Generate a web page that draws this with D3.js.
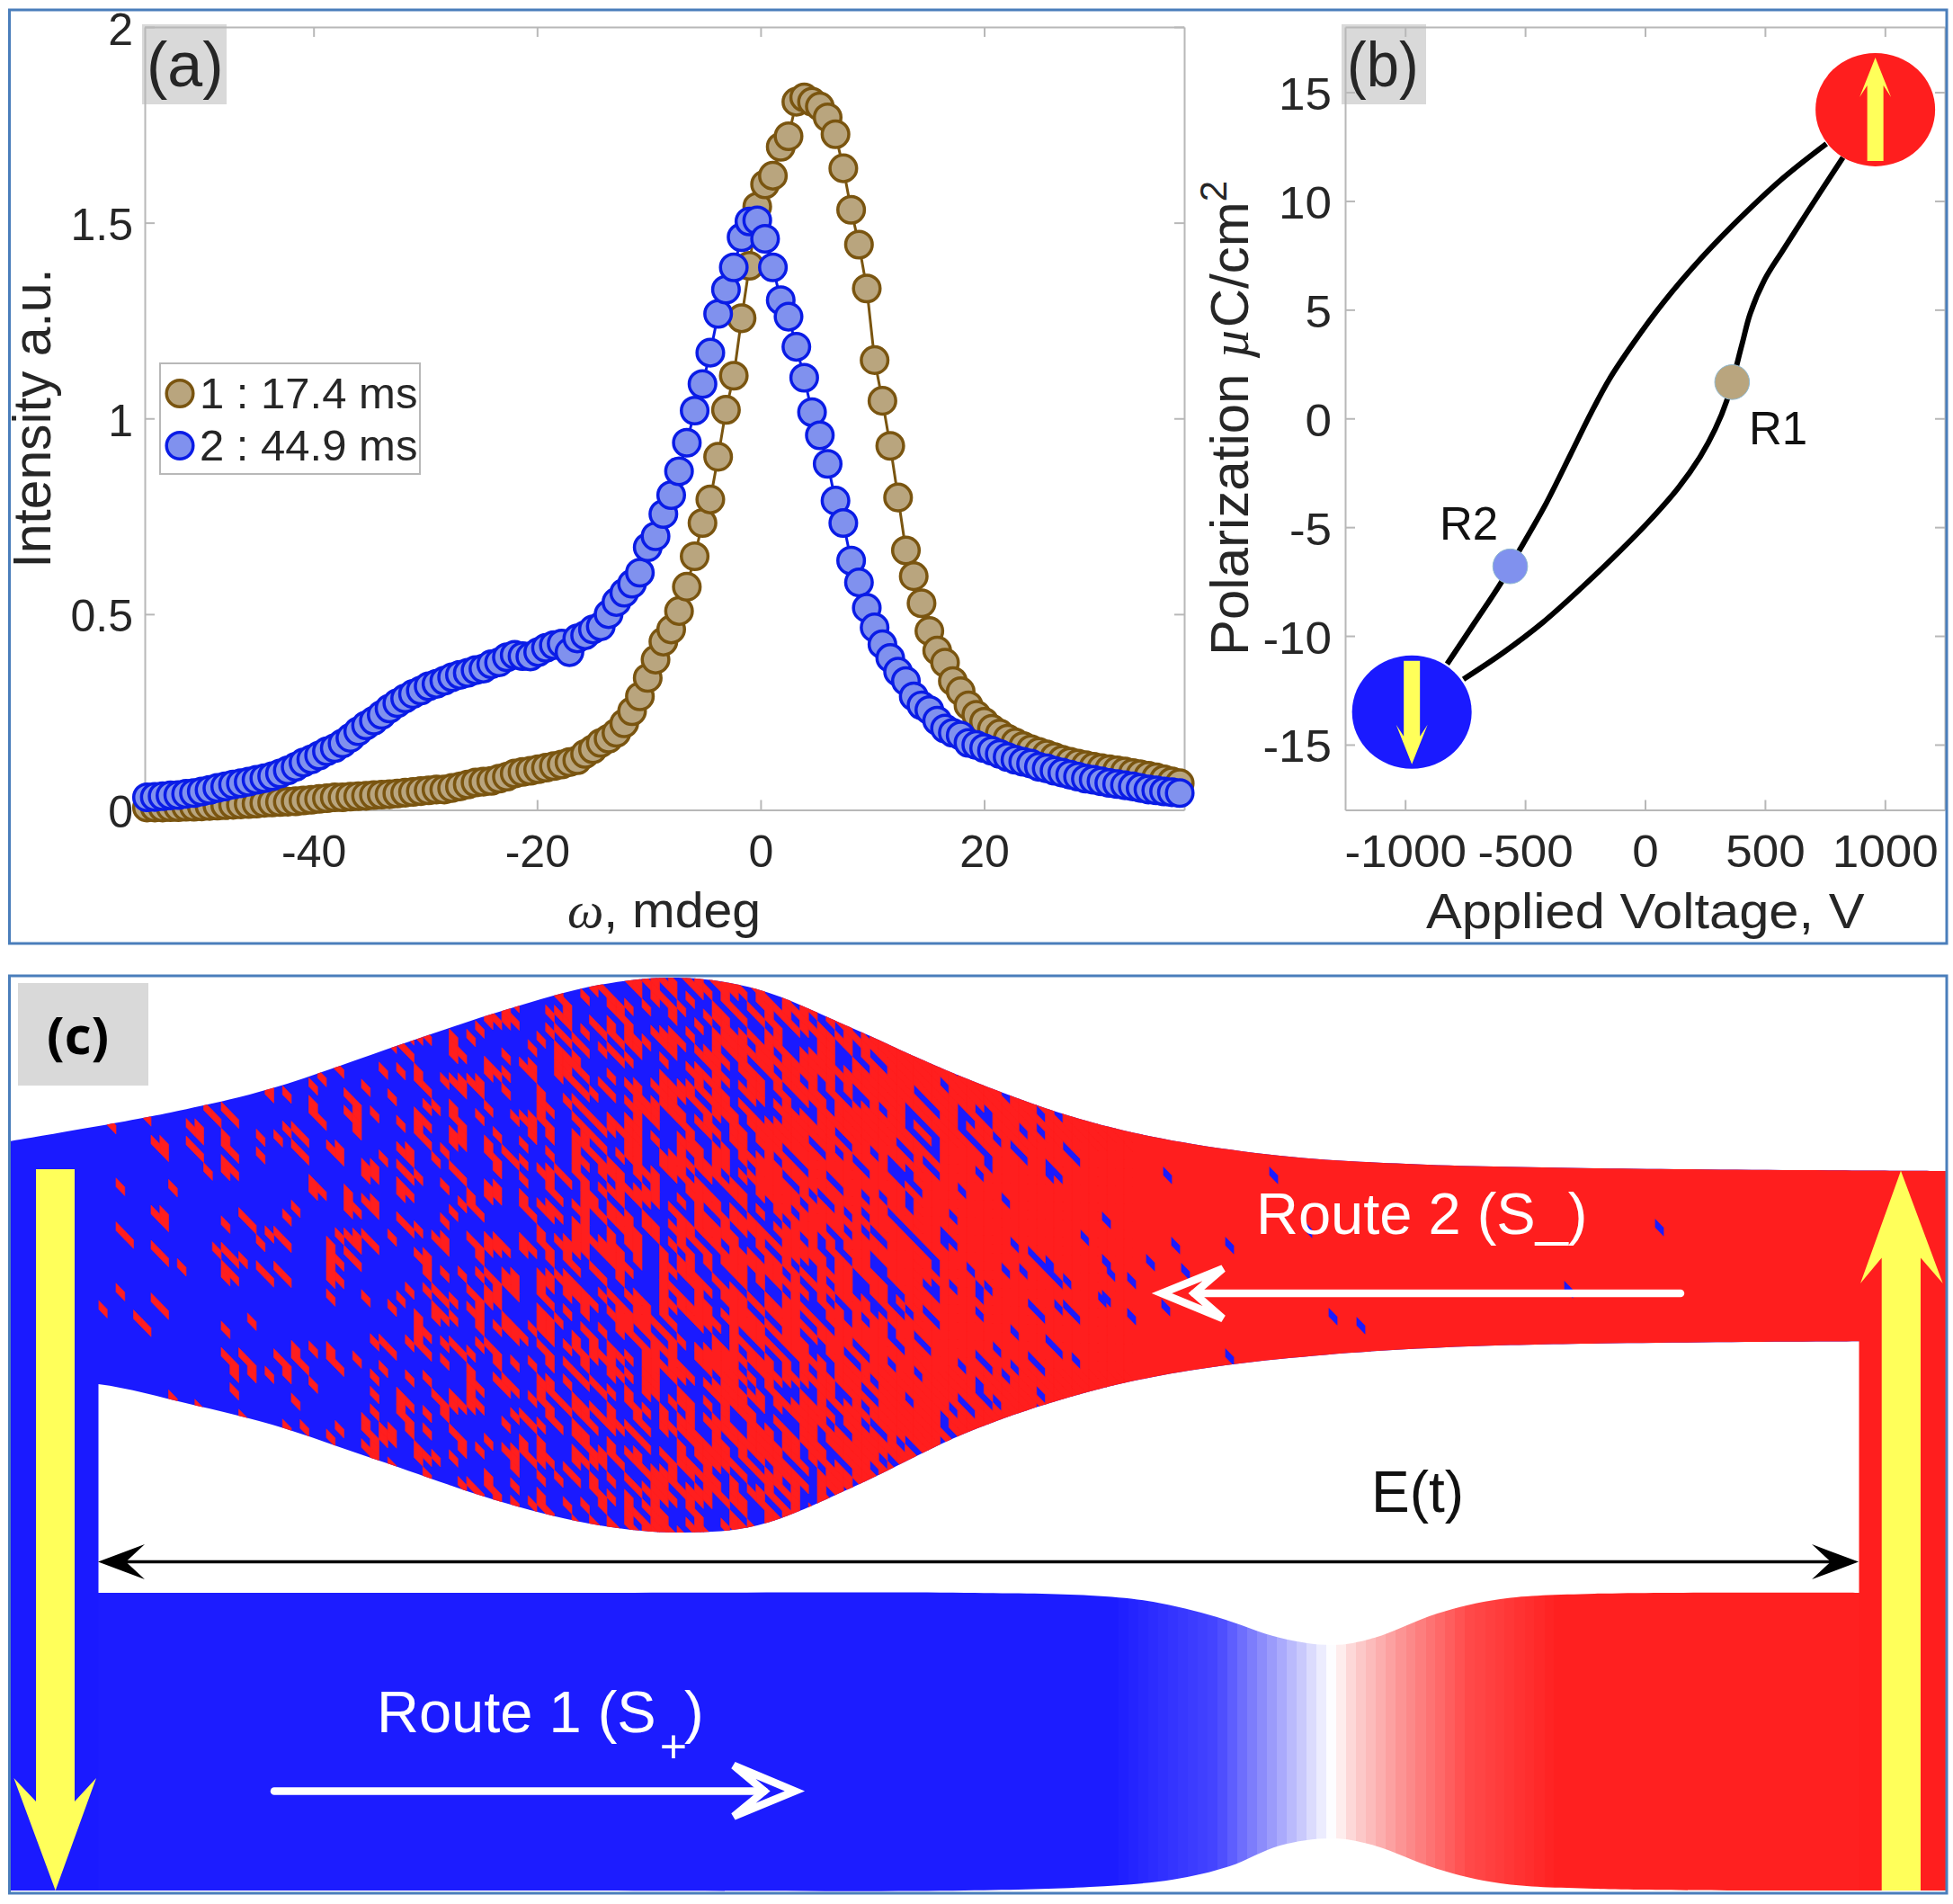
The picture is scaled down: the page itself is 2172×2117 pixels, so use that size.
<!DOCTYPE html>
<html>
<head>
<meta charset="utf-8">
<script src="https://d3js.org/d3.v7.min.js"></script>
<style>
body { margin: 0; background: #fff; }
text { font-family: "Liberation Sans", sans-serif; fill: #262626; }
.axis path, .axis line { stroke: #b8b8b8; stroke-width: 2; }
</style>
</head>
<body>
<svg id="fig" width="2172" height="2117"></svg>
<script>
// PANEL A DATA - omega (mdeg) and the two rocking curves
var omega = [
-54.9,-54.2,-53.5,-52.8,-52.1,-51.4,-50.7,-50.0,-49.3,-48.6,
-47.9,-47.2,-46.5,-45.8,-45.1,-44.4,-43.7,-43.0,-42.3,-41.6,
-40.9,-40.2,-39.5,-38.8,-38.1,-37.4,-36.7,-36.0,-35.3,-34.6,
-33.9,-33.2,-32.5,-31.8,-31.1,-30.4,-29.7,-29.0,-28.3,-27.6,
-26.9,-26.2,-25.5,-24.8,-24.1,-23.4,-22.7,-22.0,-21.3,-20.6,
-19.9,-19.2,-18.5,-17.8,-17.1,-16.4,-15.7,-15.0,-14.3,-13.6,
-12.9,-12.2,-11.5,-10.8,-10.1,-9.4,-8.7,-8.0,-7.3,-6.6,
-5.9,-5.2,-4.5,-3.8,-3.1,-2.4,-1.7,-1.0,-0.3,0.4,
1.1,1.8,2.5,3.2,3.9,4.6,5.3,6.0,6.7,7.4,
8.1,8.8,9.5,10.2,10.9,11.6,12.3,13.0,13.7,14.4,
15.1,15.8,16.5,17.2,17.9,18.6,19.3,20.0,20.7,21.4,
22.1,22.8,23.5,24.2,24.9,25.6,26.3,27.0,27.7,28.4,
29.1,29.8,30.5,31.2,31.9,32.6,33.3,34.0,34.7,35.4,
36.1,36.8,37.5];
var intensity1 = [
.006,.006,.006,.007,.007,.008,.008,.009,.010,.011,
.012,.013,.014,.015,.016,.018,.019,.020,.021,.022,
.024,.026,.028,.030,.032,.032,.034,.035,.036,.038,
.039,.040,.042,.044,.046,.048,.050,.052,.052,.056,
.060,.065,.070,.072,.074,.080,.085,.093,.097,.100,
.104,.108,.112,.116,.122,.127,.143,.155,.171,.182,
.197,.221,.252,.290,.337,.384,.430,.461,.508,.570,
.648,.733,.793,.902,1.022,1.109,1.256,1.390,1.541,1.598,
1.620,1.694,1.721,1.809,1.820,1.809,1.797,1.769,1.726,1.639,
1.533,1.444,1.332,1.149,1.045,.930,.798,.663,.597,.528,
.457,.407,.376,.329,.303,.267,.243,.225,.207,.195,
.182,.172,.163,.155,.148,.142,.135,.128,.123,.118,
.114,.110,.107,.104,.101,.098,.094,.091,.087,.083,
.078,.073,.068];
var intensity2 = [
.032,.033,.035,.037,.038,.041,.043,.047,.051,.056,
.060,.065,.068,.072,.077,.081,.086,.093,.101,.110,
.121,.129,.139,.150,.158,.170,.184,.201,.216,.228,
.243,.259,.273,.285,.296,.305,.316,.322,.330,.339,
.345,.350,.357,.361,.372,.377,.390,.396,.393,.392,
.403,.414,.421,.425,.403,.438,.446,.461,.469,.500,
.531,.555,.578,.606,.671,.699,.756,.804,.865,.938,
1.020,1.088,1.168,1.267,1.329,1.386,1.463,1.503,1.506,1.459,
1.386,1.302,1.260,1.183,1.104,1.016,.957,.884,.790,.733,
.637,.581,.516,.466,.423,.388,.353,.329,.290,.267,
.255,.228,.208,.197,.190,.171,.166,.158,.151,.143,
.135,.128,.123,.118,.110,.106,.100,.095,.090,.085,
.080,.077,.073,.069,.066,.063,.060,.056,.052,.050,
.047,.045,.043];
var legendLabels = ["1 : 17.4 ms", "2 : 44.9 ms"];
var xTicksA = [-40, -20, 0, 20];
var yTicksA = [0, 0.5, 1, 1.5, 2];

// PANEL B DATA - the two branches of the loop (V, uC/cm2)
var upperV = [-825,-712,-600,-519,-412,-312,-225,-150,-50,75,236,386,574,756];
var upperP = [-11.29,-9.42,-7.55,-5.98,-3.90,-1.69,0.25,1.78,3.44,5.31,7.39,9.10,11.04,12.63];
var lowerV = [-757,-589,-425,-262,-112,11,138,231,292,341,405,438,499,574,675,825];
var lowerP = [-11.99,-10.75,-9.37,-7.76,-6.18,-4.80,-3.20,-1.74,-0.50,0.83,3.44,4.81,6.39,7.72,9.46,12.0];
var statesV = [363, -562];
var statesP = [1.67, -6.8];
var stateNames = ["R1", "R2"];
var polesV = [960, -972];
var polesP = [14.2, -13.5];
var xTicksB = [-1000, -500, 0, 500, 1000];
var yTicksB = [-15, -10, -5, 0, 5, 10, 15];

// PANEL C DATA - ribbon outlines, in panel units
var ribbonTopX = [0,179,292,439,551,656,744,832,937,1042,1167,1272,1413,1553,1763,2155];
var ribbonTopY = [184,152,125,75,38,10,2,15,58,105,152,179,200,209,214,217];
var ribbonLowX = [0,99,200,292,411,551,656,744,832,937,1062,1167,1272,1413,1623,2155];
var ribbonLowY = [450,454,476,499,539,586,611,619,611,569,509,472,446,426,412,406];
var route1TopX = [95,600,1062,1202,1272,1343,1413,1472,1518,1588,1658,1763,2061];
var route1TopY = [686,686,686,689,696,713,736,744,736,709,693,687,686];
var route1LowX = [95,600,1062,1202,1293,1357,1413,1472,1518,1588,1658,1763,2061];
var route1LowY = [1017,1017,1017,1013,1005,990,967,959,967,993,1009,1015,1017];
// colours along route 1
var gradX = [1223,1343,1392,1434,1472,1497,1553,1623,1728];
var gradColors = ["#1a1aff","#4646ff","#8a8afb","#c4c4fc","#ffffff","#fcd0d0","#fc8e8e","#ff4a4a","#ff1e1e"];
var gradBand = 11;
// share of flipped (red) domains along route 2
var flipX = [99,290,440,550,650,744,840,940,1040,1140,1200,1240];
var flipShare = [.05,.12,.22,.32,.42,.52,.64,.74,.82,.90,.96,1];
// hand typed threshold tile: a domain flips once the share passes its character
var flipTile = [
"k3z9a0qf7m2xt5b1ow8hd4vs6gpnjr0yecu3l",
"7ub2nyh0exk5srp9c1ztg6lm3adq8iv4jfwo2",
"qo5j1wfv8c3ltz0h6msa2bg7rkxi9dyn4eup",
"1gm8s4dyr6pa0kx3uei9cfw2vbzl5tnjq7ho8",
"xe3tb9jn2hqo7vl1fsz5ag0my8drc4wikp6u",
"9a6wl0ui3fzrg8ne5xt1kb4oqdh7smjcyv2p3",
"dp2kv7cm5y1sxo4ja9ghl0ubr6tqe3fnz8wi",
"n8r4zg1qe6tbv0wli7dkp3xyf5acjmo2hs9u1",
"4hy0oxs9kfa2muc6ntr3vdz8g1qebl5wi7pj",
"u1cj6pdt3l8wgi5ebz0nsy4k7mvxa2rfq9ho5",
"s7fa2vn0qkye9ho4mjc1tu6lgzbp3i8xwrd5",
"0lbw8ier5ugj1px7dqh3ynf9ask2oc6mtvz4e",
"m6tx3ho7zdc4nak0ybvq8wp1jes5lr9gfu2i",
"g2vi5yq1bmsw6fo3zr9ekt0udx7hn4ajlc8p6",
"5ed9rul4xpjk2cg8ti6ohm1wazf3yvb0sq7n",
"b0sn7ka3gvz8yd1ql5pjxc6ruh4m9eot2fwi1",
"yq4hc1wmt6oe3rf0kgn8sib5vlp2xu7dja9z"];
var domainWide = 9.75, domainStep = 9.75, domainDrop = 10;
// single down domains left far along route 2
var loneX = [1288,1406,1835,1734,1444,1357,1308,1297,1269,1248,1220,1220,1220,1248,1286,1472,1503,1357];
var loneY = [222,222,280,349,282,300,329,300,319,339,272,319,359,379,369,379,389,424];

var blue = "#1a1aff", red = "#ff1e1e", yellow = "#ffff5a";
var tan = "#b9a57e", tanEdge = "#7a5510", peri = "#8091ee", periEdge = "#0a1ce6";

var svg = d3.select("#fig");

//STRETCH A TEXT SIDEWAYS, THE FIGURE WAS RESIZED UNEVENLY
function widen(sel, k) {
    sel.each(function() {
        d3.select(this)
            .attr("textLength", this.getComputedTextLength() * k)
            .attr("lengthAdjust", "spacingAndGlyphs");
    });
    return sel;
}

function label(str, x, y, size, anchor) {
    return svg.append("text").attr("x", x).attr("y", y)
        .attr("font-size", size).attr("text-anchor", anchor || "start").text(str);
}

function box(x0, y0, x1, y1, fill) {
    return svg.append("rect").attr("x", x0).attr("y", y0)
        .attr("width", x1 - x0).attr("height", y1 - y0).attr("fill", fill);
}

function axes(x, y, xticks, yticks, padX, padY, k) {
    var x0 = x.range()[0], x1 = x.range()[1], y0 = y.range()[0], y1 = y.range()[1];
    var bottom = svg.append("g").attr("class", "axis").attr("transform", "translate(0," + y0 + ")")
        .call(d3.axisBottom(x).tickValues(xticks).tickSize(-11).tickSizeOuter(0).tickPadding(padX).tickFormat(String));
    var left = svg.append("g").attr("class", "axis").attr("transform", "translate(" + x0 + ",0)")
        .call(d3.axisLeft(y).tickValues(yticks).tickSize(-11).tickSizeOuter(0).tickPadding(padY).tickFormat(String));
    svg.append("g").attr("class", "axis").attr("transform", "translate(0," + y1 + ")")
        .call(d3.axisTop(x).tickValues(xticks).tickSize(-11).tickSizeOuter(0).tickFormat(""));
    svg.append("g").attr("class", "axis").attr("transform", "translate(" + x1 + ",0)")
        .call(d3.axisRight(y).tickValues(yticks).tickSize(-11).tickSizeOuter(0).tickFormat(""));
    left.selectAll("text").attr("dy", "0.38em");
    [bottom, left].forEach(function(g) {
        g.selectAll("text").attr("font-size", 50).attr("font-family", "Liberation Sans")
            .style("fill", "#262626");
        widen(g.selectAll("text"), k);
    });
}

// ---------- PANEL A ----------
box(158, 27, 252, 116, "#d9d9d9");
var xA = d3.scaleLinear().domain([-55.1, 37.9]).range([161, 1317]);
var yA = d3.scaleLinear().domain([0, 2]).range([900.5, 30]);
axes(xA, yA, xTicksA, yTicksA, 28, 13, 1.0);

label("(a)", 163, 96, 70);
widen(label("Intensity a.u.", 0, 0, 60, "middle"), 0.98)
    .attr("transform", "translate(56,465) rotate(-90)");
var omegaLabel = label("", 631, 1031, 56);
omegaLabel.append("tspan").attr("font-family", "Liberation Serif").attr("font-style", "italic").text("\u03c9");
omegaLabel.append("tspan").text(", mdeg");
omegaLabel.attr("textLength", 215).attr("lengthAdjust", "spacingAndGlyphs");

function curve(vals, edge, fill) {
    var pts = omega.map(function(w, i) { return [w, vals[i]]; });
    svg.append("path").datum(pts).attr("fill", "none").attr("stroke", edge).attr("stroke-width", 3)
        .attr("d", d3.line().x(function(d) { return xA(d[0]); }).y(function(d) { return yA(d[1]); }));
    svg.append("g").selectAll("circle").data(pts).enter().append("circle")
        .attr("cx", function(d) { return xA(d[0]); })
        .attr("cy", function(d) { return yA(d[1]); })
        .attr("r", 14.8).attr("fill", fill).attr("stroke", edge).attr("stroke-width", 3.5);
}
curve(intensity1, tanEdge, tan);
curve(intensity2, periEdge, peri);

// legend
svg.append("rect").attr("x", 178).attr("y", 404).attr("width", 289).attr("height", 123)
    .attr("fill", "#fff").attr("stroke", "#b8b8b8").attr("stroke-width", 2);
legendLabels.forEach(function(t, i) {
    svg.append("circle").attr("cx", 200).attr("cy", 437.5 + i * 58).attr("r", 14.8)
        .attr("fill", i ? peri : tan).attr("stroke", i ? periEdge : tanEdge).attr("stroke-width", 3.5);
    label(t, 222, 454 + i * 58, 49);
});

// ---------- PANEL B ----------
box(1492, 27, 1586, 116, "#d9d9d9");
var xB = d3.scaleLinear().domain([-1250, 1250]).range([1496, 2163]);
var yB = d3.scaleLinear().domain([-18, 18]).range([900.5, 30]);
axes(xB, yB, xTicksB, yTicksB, 28, 15, 1.06);

widen(label("(b)", 1498, 96, 70), 0.93);
widen(label("Applied Voltage, V", 1586, 1032, 56), 1.065);
var polLabel = svg.append("text").attr("font-size", 60).attr("text-anchor", "middle")
    .attr("transform", "translate(1388,465) rotate(-90)");
polLabel.append("tspan").text("Polarization ");
polLabel.append("tspan").attr("font-family", "Liberation Serif").attr("font-style", "italic").text("\u00b5");
polLabel.append("tspan").text("C/cm");
polLabel.append("tspan").attr("font-size", 42).attr("dy", -24).text("2");

var loopLine = d3.line().curve(d3.curveCatmullRom)
    .x(function(d) { return xB(d[0]); }).y(function(d) { return yB(d[1]); });
[d3.zip(upperV, upperP), d3.zip(lowerV, lowerP)].forEach(function(pts) {
    svg.append("path").datum(pts).attr("fill", "none").attr("stroke", "#000").attr("stroke-width", 6)
        .attr("d", loopLine);
});
statesV.forEach(function(v, i) {
    svg.append("circle").attr("cx", xB(v)).attr("cy", yB(statesP[i])).attr("r", 19.3)
        .attr("fill", i ? "#8091ee" : "#b9a57e").attr("stroke", "#8fb8d0").attr("stroke-width", 1);
});
label(stateNames[0], 1945, 493.5, 51).style("fill", "#111");
label(stateNames[1], 1601, 600, 51).style("fill", "#111");

// end states with their polarisation arrows
polesV.forEach(function(v, i) {
    var cx = xB(v), cy = yB(polesP[i]);
    svg.append("ellipse").attr("cx", cx).attr("cy", cy).attr("rx", 66.5).attr("ry", 63).attr("fill", i ? blue : red);
    var dir = i ? 1 : -1;
    svg.append("path").attr("fill", yellow).attr("d", [
        "M", cx - 9, cy - dir * 57, "L", cx + 9, cy - dir * 57,
        "L", cx + 9, cy + dir * 27, "L", cx + 17.5, cy + dir * 14, "L", cx, cy + dir * 58,
        "L", cx - 17.5, cy + dir * 14, "L", cx - 9, cy + dir * 27, "Z"].join(" "));
});

// ---------- PANEL C ----------
var xC = d3.scaleLinear().domain([0, 2155]).range([10.5, 2165.5]);
var yC = d3.scaleLinear().domain([0, 1020]).range([1085, 2105]);
var edge = d3.line().curve(d3.curveCatmullRom)
    .x(function(d) { return xC(d[0]); }).y(function(d) { return yC(d[1]); });

function ribbon(topX, topY, lowX, lowY) {
    var top = edge(d3.zip(topX, topY));
    var low = edge(d3.zip(lowX, lowY).reverse());
    return top + "L" + low.slice(1) + "Z";
}
var ribbonPath = ribbon(ribbonTopX, ribbonTopY, ribbonLowX, ribbonLowY);
var defs = svg.append("defs");
defs.append("clipPath").attr("id", "route2").append("path").attr("d", ribbonPath);

svg.append("path").attr("d", ribbonPath).attr("fill", blue);

// flipped domains on a sheared grid - each column reads the share it needs from flipShare
var share = d3.scaleLinear().domain(flipX).range(flipShare).clamp(true);
var cols = Math.ceil((flipX[flipX.length - 1] - flipX[0]) / domainWide);
var chars = "0123456789abcdefghijklmnopqrstuvwxyz";
var flips = "";
function cell(ux, uy) {
    return "M" + xC(ux) + "," + yC(uy)
        + "L" + xC(ux + domainWide) + "," + yC(uy + domainDrop)
        + "L" + xC(ux + domainWide) + "," + yC(uy + domainDrop + domainStep)
        + "L" + xC(ux) + "," + yC(uy + domainStep) + "Z";
}
var nRows = flipTile.length;
for (var j = 0; j < cols; j++) {
    var ux = flipX[0] + j * domainWide;
    var first = Math.floor(-j * domainDrop / domainStep) - 2;
    var last = Math.ceil((640 - j * domainDrop) / domainStep);
    for (var i = first; i <= last; i++) {
        var ii = i + 400;
        var row = flipTile[ii % nRows];
        // every second row of the grid keeps pairs together, the domains run along the shear
        var c = (ii % 2 === 0 ? Math.floor(j / 2) : j) + 11 * Math.floor(ii / nRows);
        var t = (chars.indexOf(row[c % row.length]) + 0.5) / 36;
        if (t < share(ux)) flips += cell(ux, i * domainStep + j * domainDrop);
    }
}
var flipped = svg.append("g").attr("clip-path", "url(#route2)");
flipped.append("path").attr("d", flips).attr("fill", red).attr("stroke", red).attr("stroke-width", 0.6);
var lastCol = flipX[0] + cols * domainWide;
flipped.append("rect").attr("x", xC(lastCol)).attr("y", yC(0))
    .attr("width", xC(2155) - xC(lastCol)).attr("height", yC(600) - yC(0)).attr("fill", red);
flipped.append("path").attr("fill", blue).attr("d", loneX.map(function(x, i) {
    return cell(x - domainWide / 2, loneY[i] - 10);
}).join(""));

// route 1 with the white crossing, colour goes in narrow flat bands like the original
var gradColor = d3.scaleLinear().domain(gradX).range(gradColors).clamp(true);
var gradStart = gradX[0], gradEnd = gradX[gradX.length - 1];
var grad = defs.append("linearGradient").attr("id", "route1").attr("gradientUnits", "userSpaceOnUse")
    .attr("x1", xC(gradStart)).attr("x2", xC(gradEnd)).attr("y1", 0).attr("y2", 0);
d3.range(gradStart, gradEnd, gradBand).forEach(function(x) {
    var col = gradColor(x + gradBand / 2);
    grad.append("stop").attr("offset", (x - gradStart) / (gradEnd - gradStart)).attr("stop-color", col);
    grad.append("stop").attr("offset", (x + gradBand - gradStart) / (gradEnd - gradStart)).attr("stop-color", col);
});
svg.append("path").attr("d", ribbon(route1TopX, route1TopY, route1LowX, route1LowY)).attr("fill", "url(#route1)");

// end bars
box(xC(0), yC(300), xC(99), yC(1017), blue);
box(xC(2057), yC(300), xC(2155), yC(1017), red);

// yellow field arrows
svg.append("path").attr("fill", yellow)
    .attr("d", "M40,1300H83V2003L107,1977L61.7,2102L15.4,1977L40,2003Z");
svg.append("path").attr("fill", yellow)
    .attr("d", "M2092.7,2102V1398.5L2069,1427L2114,1301.7L2160.7,1427L2136,1398.5V2102Z");

// E(t) double arrow
svg.append("line").attr("x1", 130).attr("x2", 2046).attr("y1", 1736.5).attr("y2", 1736.5)
    .attr("stroke", "#000").attr("stroke-width", 3.5);
svg.append("path").attr("fill", "#000").attr("d", "M109,1736.5L161,1717L140,1736.5L161,1756Z");
svg.append("path").attr("fill", "#000").attr("d", "M2067,1736.5L2015,1717L2036,1736.5L2015,1756Z");
label("E(t)", 1525, 1681, 64).style("fill", "#111");

// route arrows
function routeArrow(d) {
    svg.append("path").attr("d", d).attr("fill", "none").attr("stroke", "#fff")
        .attr("stroke-width", 8.5).attr("stroke-linecap", "round").attr("stroke-linejoin", "miter");
}
routeArrow("M305,1991.5H850");
routeArrow("M816,1963L884,1991.5L816,2019.5L850,1991.5Z");
routeArrow("M1869,1438H1328");
routeArrow("M1360,1410.5L1292,1438L1360,1466L1328,1438Z");

var r1 = label("Route 1 (S", 419, 1926, 65).style("fill", "#fff");
r1.append("tspan").attr("font-size", 52).attr("dy", 34).attr("dx", 4).text("+");
r1.append("tspan").attr("dy", -34).attr("dx", -3).text(")");
label("Route 2 (S_)", 1397, 1372, 65).style("fill", "#fff");

box(20, 1093, 165, 1207, "#d9d9d9");
svg.append("text").attr("x", 52).attr("y", 1172).attr("font-size", 58).attr("font-weight", "bold")
    .style("font-family", "'Open Sans'").style("fill", "#000").text("(c)");

// panel frames
[[10.5, 11, 2165, 1049], [10.5, 1085, 2165, 2105]].forEach(function(f) {
    svg.append("rect").attr("x", f[0]).attr("y", f[1]).attr("width", f[2] - f[0]).attr("height", f[3] - f[1])
        .attr("fill", "none").attr("stroke", "#4a7ebb").attr("stroke-width", 3);
});
</script>
</body>
</html>
